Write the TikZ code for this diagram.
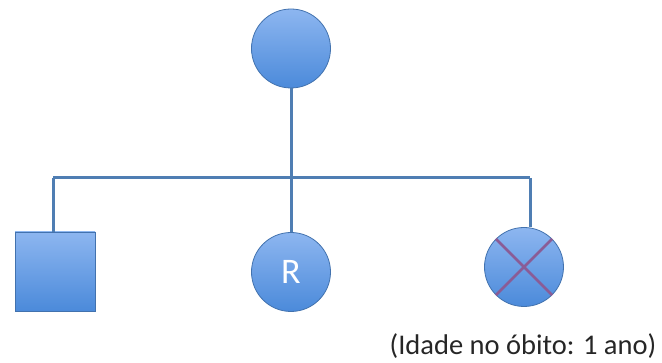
\documentclass[tikz,border=0pt]{standalone}
\usepackage{fontspec}
\setmainfont{Carlito}
\definecolor{linec}{HTML}{4F7EB3}
\definecolor{edgec}{HTML}{4272AE}
\definecolor{topc}{HTML}{8DB6F0}
\definecolor{botc}{HTML}{4B8ADA}
\definecolor{xc}{HTML}{8A5C96}
\tikzset{
  person/.style={draw=edgec, line width=0.8pt, top color=topc, bottom color=botc},
  female/.style={person, circle, minimum size=79pt, inner sep=0pt},
  male/.style={person, rectangle, minimum width=80pt, minimum height=79pt, inner sep=0pt},
  link/.style={draw=linec, line width=3pt},
}
\begin{document}
\begin{tikzpicture}[x=1pt,y=-1pt]
\useasboundingbox (0,0) rectangle (662,363);
\node[female] (mother) at (291,48.5) {};
\coordinate (mid) at (291,178);
\coordinate (left) at (53,178);
\coordinate (right) at (530,178);
\node[male] (son) at (55,271.5) {};
\node[female, font=\fontsize{36}{40}\selectfont, text=white] (r) at (291,272) {R};
\node[female] (dead) at (524,267) {};
\draw[link] (mother) -- (mid);
\draw[link] (left) -- (right);
\draw[link] (left) -- (left |- son.north);
\draw[link] (mid) -- (r);
\draw[link] (right) -- (right |- dead.north);
\draw[xc, line width=2.5pt] (dead.north west) -- (dead.south east);
\draw[xc, line width=2.5pt] (dead.north east) -- (dead.south west);
\node[font=\fontsize{28.5}{32}\selectfont, text=black!85] (note) at (523,346) {(Idade no óbito: 1 ano)};
\end{tikzpicture}
\end{document}
